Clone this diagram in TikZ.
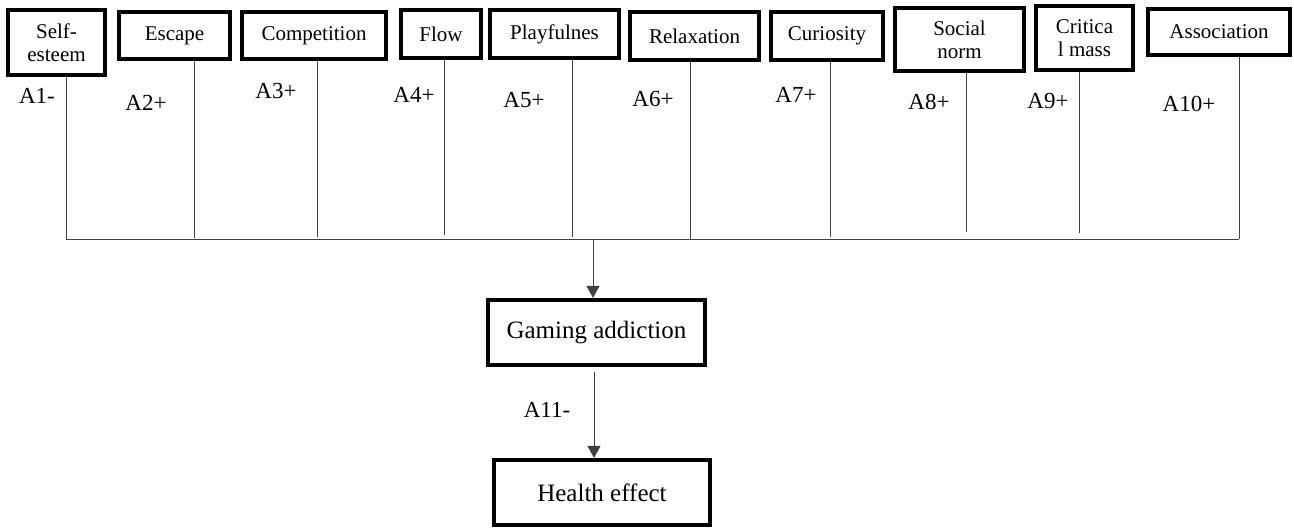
\documentclass[tikz,border=0pt]{standalone}
\usepackage{fontspec}
\setmainfont{Liberation Serif}
\usetikzlibrary{arrows.meta}
\begin{document}
\begin{tikzpicture}[x=1pt,y=-1pt,
  box/.style={draw, line width=3.8pt, inner sep=0pt, align=center, font=\fontsize{21}{23}\selectfont},
  bigbox/.style={draw, line width=3.8pt, inner sep=0pt, align=center, font=\fontsize{25}{28}\selectfont},
  lab/.style={inner sep=0pt, font=\fontsize{23}{25}\selectfont},
  conn/.style={line width=1pt, draw=black!75},
  arr/.style={conn, -{Triangle[length=12pt,width=13pt]}}]
\useasboundingbox (0,0) rectangle (1294,528);
% top boxes
\node[box, minimum width=97.5pt, minimum height=65.5pt] (b1) at (56.5,42.5) {Self-\\esteem};
\node[box, minimum width=111.5pt, minimum height=47.5pt] (b2) at (174.5,35.5) {Escape};
\node[box, minimum width=144.5pt, minimum height=47.5pt] (b3) at (314,35.5) {Competition};
\node[box, minimum width=80.5pt, minimum height=48.5pt] (b4) at (441,34) {Flow};
\node[box, minimum width=129.5pt, minimum height=48.5pt] (b5) at (554.5,34) {Playfulnes};
\node[box, minimum width=129.5pt, minimum height=48.5pt] (b6) at (694.5,36) {Relaxation};
\node[box, minimum width=112.5pt, minimum height=48.5pt] (b7) at (827,36) {Curiosity};
\node[box, minimum width=129.5pt, minimum height=63.5pt] (b8) at (959.5,39.5) {Social\\norm};
\node[box, minimum width=97.5pt, minimum height=64.5pt] (b9) at (1084.5,38) {Critica\\l mass};
\node[box, minimum width=142.5pt, minimum height=46.5pt] (b10) at (1219,32) {Association};
% lower boxes
\node[bigbox, minimum width=217.5pt, minimum height=65.5pt] (g) at (596.5,332.5) {Gaming addiction};
\node[bigbox, minimum width=216.5pt, minimum height=65.5pt] (h) at (602,492.5) {Health effect};
% junctions
\coordinate (j1) at (66,239);
\coordinate (j2) at (194,238);
\coordinate (j3) at (317,237);
\coordinate (j4) at (444,235);
\coordinate (j5) at (572,237);
\coordinate (j6) at (690,239);
\coordinate (j7) at (830,237);
\coordinate (j8) at (966,232);
\coordinate (j9) at (1079,233);
\coordinate (j10) at (1239,239);
\coordinate (top) at (593,239);
\coordinate (a2) at (594,372);
% connectors
\draw[conn] (j1) -- (j10);
\foreach \i in {1,...,10} { \draw[conn] (b\i.south -| j\i) -- (j\i); }
\draw[arr] (top) -- (g.north -| top);
\draw[arr] (a2) -- (h.north -| a2);
% labels
\node[lab] (l1) at (37,96) {A1-};
\node[lab] (l2) at (146,103) {A2+};
\node[lab] (l3) at (276,91) {A3+};
\node[lab] (l4) at (414,95) {A4+};
\node[lab] (l5) at (524,100) {A5+};
\node[lab] (l6) at (653,99) {A6+};
\node[lab] (l7) at (796,95) {A7+};
\node[lab] (l8) at (929,102) {A8+};
\node[lab] (l9) at (1048,101) {A9+};
\node[lab] (l10) at (1189,104) {A10+};
\node[lab] (l11) at (547,410) {A11-};
\end{tikzpicture}
\end{document}
